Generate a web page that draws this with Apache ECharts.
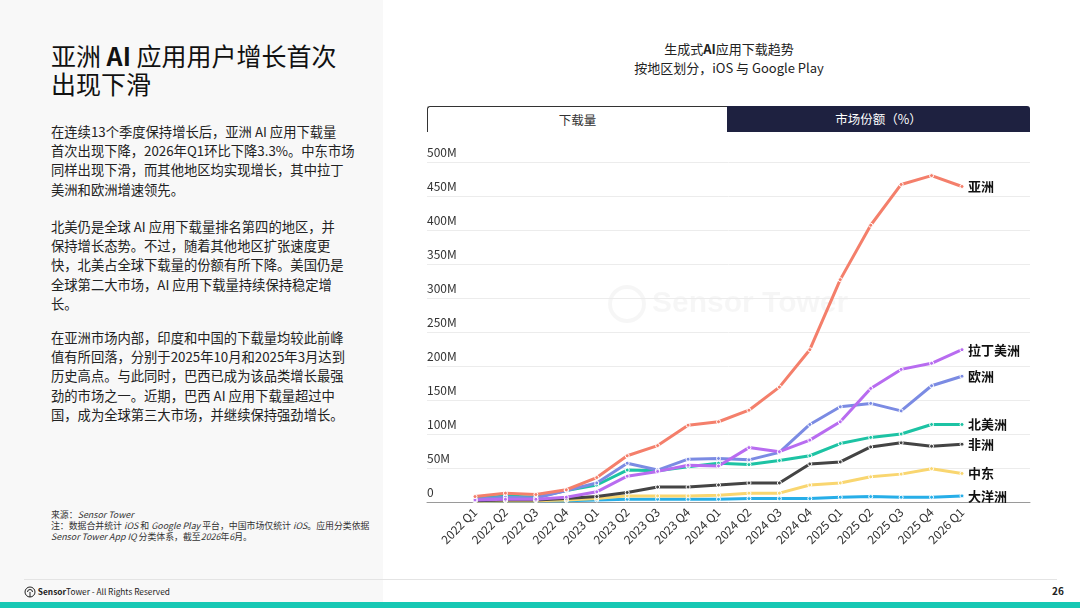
<!DOCTYPE html>
<html>
<head>
<meta charset="utf-8">
<script src="https://cdn.jsdelivr.net/npm/echarts@6/dist/echarts.min.js"></script>
<style>
  body { margin: 0; width: 1080px; height: 608px; overflow: hidden; background: #fff;
         font-family: "Noto Sans CJK SC", "Noto Sans", sans-serif; color: #1a1a1a; position: relative; }
  .abs { position: absolute; }
  #leftPanel { left: 0; top: 0; width: 383px; height: 602px; background: #f8f8f8; }
  #bigTitle { left: 51px; top: 41px; font-size: 25px; line-height: 28px; color: #111; white-space: nowrap; }
  .para { left: 51px; font-size: 13.3px; line-height: 19.2px; color: #222; white-space: nowrap; }
  #note { left: 51px; top: 509px; font-size: 8.9px; line-height: 11px; color: #333; white-space: nowrap; }
  #chartHead { left: 428px; width: 602px; top: 39px; text-align: center; font-size: 13px; line-height: 19px; color: #222; }
  #tabA { left: 427px; top: 106px; width: 299px; height: 25px; border-top: 1px solid #333; border-left: 1px solid #333;
          border-radius: 3px 0 0 0; text-align: center; line-height: 25px; font-size: 12.5px; color: #333; background: #fff; }
  #tabB { left: 727px; top: 106px; width: 303px; height: 26px; background: #1e2140; border-radius: 0 3px 0 0;
          text-align: center; line-height: 26px; font-size: 12.5px; color: #fff; }
  #footLine { left: 24px; top: 579px; width: 1033px; height: 1px; background: #e4e4e4; }
  #footText { left: 24px; top: 584px; font-size: 8.3px; line-height: 14px; color: #222; white-space: nowrap; }
  #pageNo { left: 1052px; top: 583px; font-size: 10px; font-weight: bold; color: #222; }
  #tealBar { left: 0; top: 602px; width: 1080px; height: 6px; background: #17c8b4; }
  #chart { left: 0; top: 0; width: 1080px; height: 608px; z-index: 2; }
</style>
</head>
<body>
<div class="abs" id="leftPanel"></div>
<div class="abs" id="bigTitle">亚洲 <b>AI</b> 应用用户增长首次<br>出现下滑</div>
<div class="abs para" style="top:122px">在连续13个季度保持增长后，亚洲 AI 应用下载量<br>首次出现下降，2026年Q1环比下降3.3%。中东市场<br>同样出现下滑，而其他地区均实现增长，其中拉丁<br>美洲和欧洲增速领先。</div>
<div class="abs para" style="top:217px">北美仍是全球 AI 应用下载量排名第四的地区，并<br>保持增长态势。不过，随着其他地区扩张速度更<br>快，北美占全球下载量的份额有所下降。美国仍是<br>全球第二大市场，AI 应用下载量持续保持稳定增<br>长。</div>
<div class="abs para" style="top:328px">在亚洲市场内部，印度和中国的下载量均较此前峰<br>值有所回落，分别于2025年10月和2025年3月达到<br>历史高点。与此同时，巴西已成为该品类增长最强<br>劲的市场之一。近期，巴西 AI 应用下载量超过中<br>国，成为全球第三大市场，并继续保持强劲增长。</div>
<div class="abs" id="note">来源：<i>Sensor Tower</i><br>注：数据合并统计 <i>iOS</i> 和 <i>Google Play</i> 平台，中国市场仅统计 <i>iOS</i>。应用分类依据<br><i>Sensor Tower App IQ</i> 分类体系，截至<i>2026</i>年<i>6</i>月。</div>

<div class="abs" id="chartHead">生成式<b>AI</b>应用下载趋势<br>按地区划分，iOS 与 Google Play</div>
<div class="abs" id="tabA">下载量</div>
<div class="abs" id="tabB">市场份额（%）</div>

<div class="abs" id="footLine"></div>
<div class="abs" id="footText"><svg width="12" height="12" viewBox="0 0 12 12" style="vertical-align:-3px"><circle cx="6" cy="6" r="5" fill="none" stroke="#222" stroke-width="1"/><path d="M6 11 V6 M3.5 6 a2.5 2.5 0 0 1 5 0" fill="none" stroke="#222" stroke-width="1"/></svg> <b>Sensor</b>Tower - All Rights Reserved</div>
<div class="abs" id="pageNo">26</div>
<div class="abs" id="tealBar"></div>

<div class="abs" id="chart"></div>

<script>
const quarters = ['2022 Q1', '2022 Q2', '2022 Q3', '2022 Q4', '2023 Q1', '2023 Q2', '2023 Q3', '2023 Q4',
  '2024 Q1', '2024 Q2', '2024 Q3', '2024 Q4', '2025 Q1', '2025 Q2', '2025 Q3', '2025 Q4', '2026 Q1'];

// downloads, millions
const asia       = [8, 13, 11, 18, 36, 68, 83, 113, 118, 135, 169, 224, 327, 407, 467, 480, 464];
const latAm      = [3, 4, 4, 7, 15, 38, 45, 54, 53, 80, 74, 91, 118, 167, 195, 204, 224];
const europe     = [4, 7, 6, 17, 28, 57, 47, 63, 64, 62, 73, 114, 140, 145, 134, 171, 185];
const northAm    = [5, 9, 7, 17, 25, 47, 46, 52, 57, 55, 61, 68, 86, 95, 100, 114, 114];
const africa     = [2, 3, 3, 5, 8, 14, 22, 22, 25, 28, 28, 56, 59, 81, 87, 82, 85];
const middleEast = [1, 2, 2, 3, 5, 9, 9, 9, 10, 13, 13, 25, 28, 37, 41, 49, 42];
const oceania    = [1, 2, 2, 2, 3, 4, 4, 4, 4, 5, 5, 5, 7, 8, 7, 7, 9];

const yTicks = { min: 0, max: 500, step: 50 };

const regions = [
  { name: '大洋洲', data: oceania, color: '#27aee8' },
  { name: '中东', data: middleEast, color: '#f9d670' },
  { name: '非洲', data: africa, color: '#444444' },
  { name: '北美洲', data: northAm, color: '#1dc3a4' },
  { name: '欧洲', data: europe, color: '#7b8be3' },
  { name: '拉丁美洲', data: latAm, color: '#b86cf0' },
  { name: '亚洲', data: asia, color: '#f47f6b' }
];

const myChart = echarts.init(document.getElementById('chart'), null, { renderer: 'canvas' });

const series = regions.map(function (r) {
  return {
    name: r.name,
    type: 'line',
    xAxisIndex: 1,
    yAxisIndex: 1,
    data: r.data,
    symbol: 'circle',
    symbolSize: 4,
    lineStyle: { width: 3, color: r.color },
    itemStyle: { color: r.color, borderColor: '#fff', borderWidth: 1 },
    endLabel: {
      show: true,
      formatter: '{a}',
      distance: 6,
      fontSize: 13,
      fontWeight: 'bold',
      color: '#111',
      fontFamily: 'Noto Sans CJK SC'
    }
  };
});

const option = {
  animation: false,
  textStyle: { fontFamily: 'Noto Sans CJK SC' },
  grid: [
    { left: 427, right: 50, top: 162, bottom: 106 },
    { left: 475, right: 118, top: 162, bottom: 106 }
  ],
  graphic: [
    { type: 'circle', shape: { cx: 627, cy: 304, r: 17 }, style: { fill: 'none', stroke: 'rgba(0,0,0,0.035)', lineWidth: 4 }, z: 0 },
    { type: 'text', x: 652, y: 304, style: { text: 'Sensor Tower', fontSize: 30, fontWeight: 'bold', fill: 'rgba(0,0,0,0.035)', verticalAlign: 'middle' }, z: 0 }
  ],
  xAxis: [
    {
      gridIndex: 0, type: 'value', min: 0, max: 1,
      axisLine: { show: true, lineStyle: { color: '#9a9a9a', width: 1 } },
      axisTick: { show: false }, axisLabel: { show: false }, splitLine: { show: false }
    },
    {
      gridIndex: 1, type: 'category', data: quarters, boundaryGap: false,
      axisLine: { show: false }, axisTick: { show: false },
      axisLabel: { rotate: 45, interval: 0, fontSize: 12, color: '#333', margin: 8 }
    }
  ],
  yAxis: [
    {
      gridIndex: 0, type: 'value', min: yTicks.min, max: yTicks.max, interval: yTicks.step,
      axisLine: { show: false }, axisTick: { show: false },
      axisLabel: {
        inside: true, align: 'left', verticalAlign: 'bottom', margin: 0, fontSize: 12, color: '#333',
        padding: [0, 0, 4, 0],
        formatter: function (v) { return v === 0 ? '0' : v + 'M'; }
      },
      splitLine: { lineStyle: { color: '#ececec' } }
    },
    { gridIndex: 1, type: 'value', min: yTicks.min, max: yTicks.max, show: false, splitLine: { show: false } }
  ],
  series: series
};

myChart.setOption(option);
</script>
</body>
</html>
